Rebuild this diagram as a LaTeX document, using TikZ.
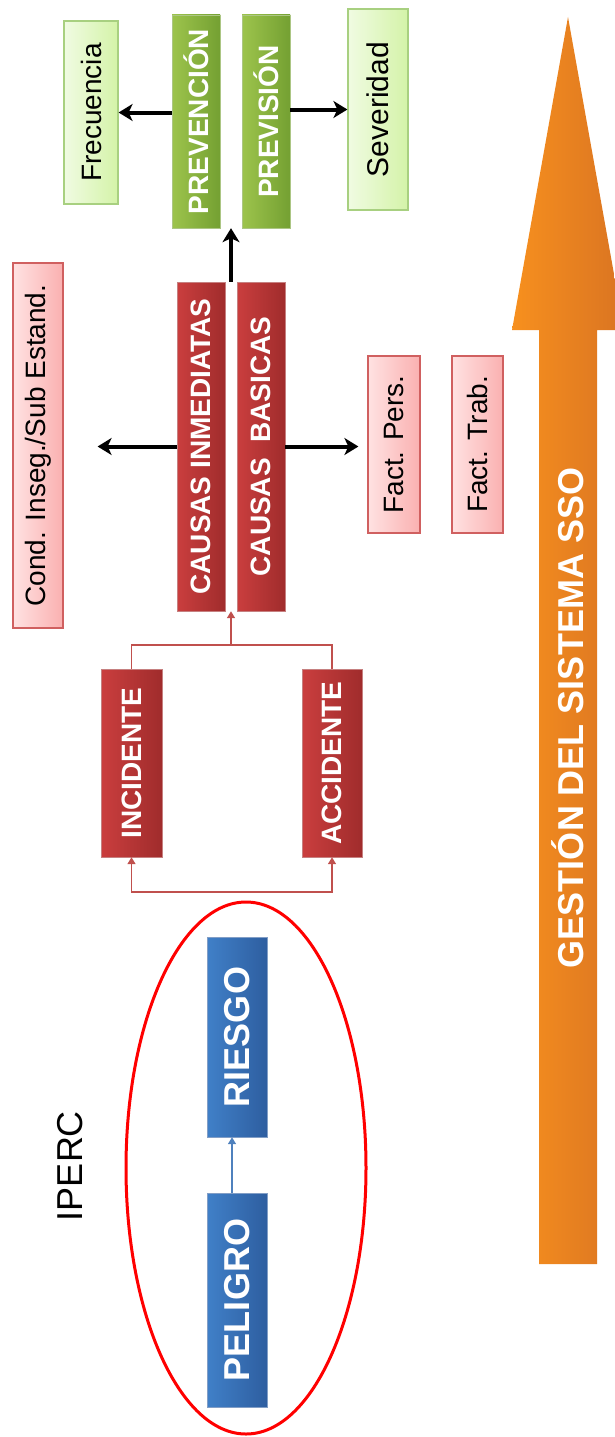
\documentclass[tikz,border=0pt]{standalone}
\usepackage{fontspec}
\setmainfont{Liberation Sans}
\definecolor{prevgreen}{RGB}{157, 196, 76}
\definecolor{prevgreendk}{RGB}{116, 160, 50}
\definecolor{palegreen}{RGB}{240, 251, 226}
\definecolor{palegreendk}{RGB}{212, 243, 168}
\definecolor{palegreenbd}{RGB}{168, 208, 128}
\definecolor{causered}{RGB}{202, 62, 62}
\definecolor{causereddk}{RGB}{160, 44, 44}
\definecolor{palered}{RGB}{255, 226, 226}
\definecolor{paleredk}{RGB}{250, 176, 176}
\definecolor{paleredbd}{RGB}{208, 96, 96}
\definecolor{linkred}{RGB}{192, 80, 77}
\definecolor{riskblue}{RGB}{64, 128, 200}
\definecolor{riskbluedk}{RGB}{46, 94, 160}
\definecolor{linkblue}{RGB}{79, 129, 189}
\definecolor{ssoorange}{RGB}{247, 144, 30}
\definecolor{ssoorangedk}{RGB}{218, 116, 34}
\usetikzlibrary{arrows.meta, calc}

\begin{document}
\begin{tikzpicture}[
  x=1pt, y=-1pt,
  box/.style={rotate=90, inner sep=0pt, anchor=center},
  darkbox/.style={box, text=white, font=\bfseries\fontsize{28}{30}\selectfont},
  palebox/.style={box, text=black, font=\fontsize{28}{30}\selectfont},
  gbox/.style={darkbox, left color=prevgreen, right color=prevgreendk, draw=prevgreendk!60},
  rbox/.style={darkbox, left color=causered, right color=causereddk, draw=causereddk!60},
  bbox/.style={darkbox, font=\bfseries\fontsize{36}{38}\selectfont, left color=riskblue, right color=riskbluedk, draw=riskbluedk!60},
  lgbox/.style={palebox, left color=palegreen, right color=palegreendk, draw=palegreenbd, line width=1.2pt},
  lrbox/.style={palebox, left color=palered, right color=paleredk, draw=paleredbd, line width=1.2pt},
  blkarr/.style={-{Stealth[length=14pt, width=17pt, inset=4pt]}, line width=4pt},
  redarr/.style={-{Triangle[length=7pt, width=8pt]}, draw=linkred, line width=1.5pt},
  bluearr/.style={-{Triangle[length=7pt, width=8pt]}, draw=linkblue, line width=1.5pt}
]
  \useasboundingbox (0,0) rectangle (614,1437);

  % Gestion arrow
  \path[left color=ssoorange, right color=ssoorangedk]
    (539,1264) -- (539,330) -- (512,330) -- (568,17) -- (624,330) -- (597,330) -- (597,1264) -- cycle;
  \node[box, text=white, font=\bfseries\fontsize{36}{38}\selectfont] (gestion) at (568,718) {GESTIÓN DEL SISTEMA SSO};

  % Prevision layer
  \node[lgbox, minimum width=183pt, minimum height=54pt] (frecuencia) at (91,112.5) {Frecuencia};
  \node[gbox, minimum width=213pt, minimum height=48pt] (prevencion) at (196,121.5) {PREVENCIÓN};
  \node[gbox, minimum width=213pt, minimum height=48pt] (prevision) at (266,121.5) {PREVISIÓN};
  \node[lgbox, font=\fontsize{30}{32}\selectfont, minimum width=201pt, minimum height=60pt] (severidad) at (378,109.5) {Severidad};
  \draw[blkarr] (prevencion.north |- frecuencia.south) -- (frecuencia.south);
  \draw[blkarr] (prevision.south |- severidad.north) -- (severidad.north);

  % Causes layer
  \node[lrbox, minimum width=365pt, minimum height=50pt] (cond) at (38,445.5) {Cond. Inseg./Sub Estand.};
  \node[rbox, minimum width=329pt, minimum height=48pt] (inmediatas) at (201,446.5) {CAUSAS INMEDIATAS};
  \node[rbox, minimum width=329pt, minimum height=48pt] (basicas) at (261,446.5) {CAUSAS\ \ BASICAS};
  \node[lrbox, minimum width=177pt, minimum height=52pt] (factpers) at (394,444.5) {Fact. Pers.};
  \node[lrbox, minimum width=177pt, minimum height=51pt] (facttrab) at (477.5,444.5) {Fact. Trab.};
  \draw[blkarr, shorten >=34pt] (inmediatas.north) -- (inmediatas.north -| cond.south);
  \draw[blkarr, shorten >=9pt] (basicas.south) -- (basicas.south -| factpers.north);
  \draw[blkarr] ($(inmediatas.east)!0.5!(basicas.east)$) -- ($(prevencion.west)!0.5!(prevision.west)$);

  % Events layer
  \node[rbox, minimum width=188pt, minimum height=61pt] (incidente) at (131.5,763) {INCIDENTE};
  \node[rbox, minimum width=188pt, minimum height=60pt] (accidente) at (332,763) {ACCIDENTE};
  \coordinate (joinup) at (231,645);
  \coordinate (joindown) at (232,892);
  \draw[linkred, line width=1.5pt] (incidente.east) |- (joinup) -| (accidente.east);
  \draw[redarr] (joinup) -- ($(inmediatas.west)!0.5!(basicas.west)$);
  \draw[redarr] (joindown) -| (incidente.west);
  \draw[redarr] (joindown) -| (accidente.west);

  % IPERC
  \node[box, font=\fontsize{36}{38}\selectfont] (iperc) at (70,1166) {IPERC};
  \node[bbox, minimum width=200pt, minimum height=60pt] (riesgo) at (237,1037) {RIESGO};
  \node[bbox, minimum width=214pt, minimum height=60pt] (peligro) at (237,1300) {PELIGRO};
  \draw[bluearr] ([xshift=-5pt]peligro.east) -- ([xshift=-5pt]riesgo.west);
  \draw[red, line width=3pt] (246,1168) ellipse [x radius=120, y radius=266];
\end{tikzpicture}
\end{document}
